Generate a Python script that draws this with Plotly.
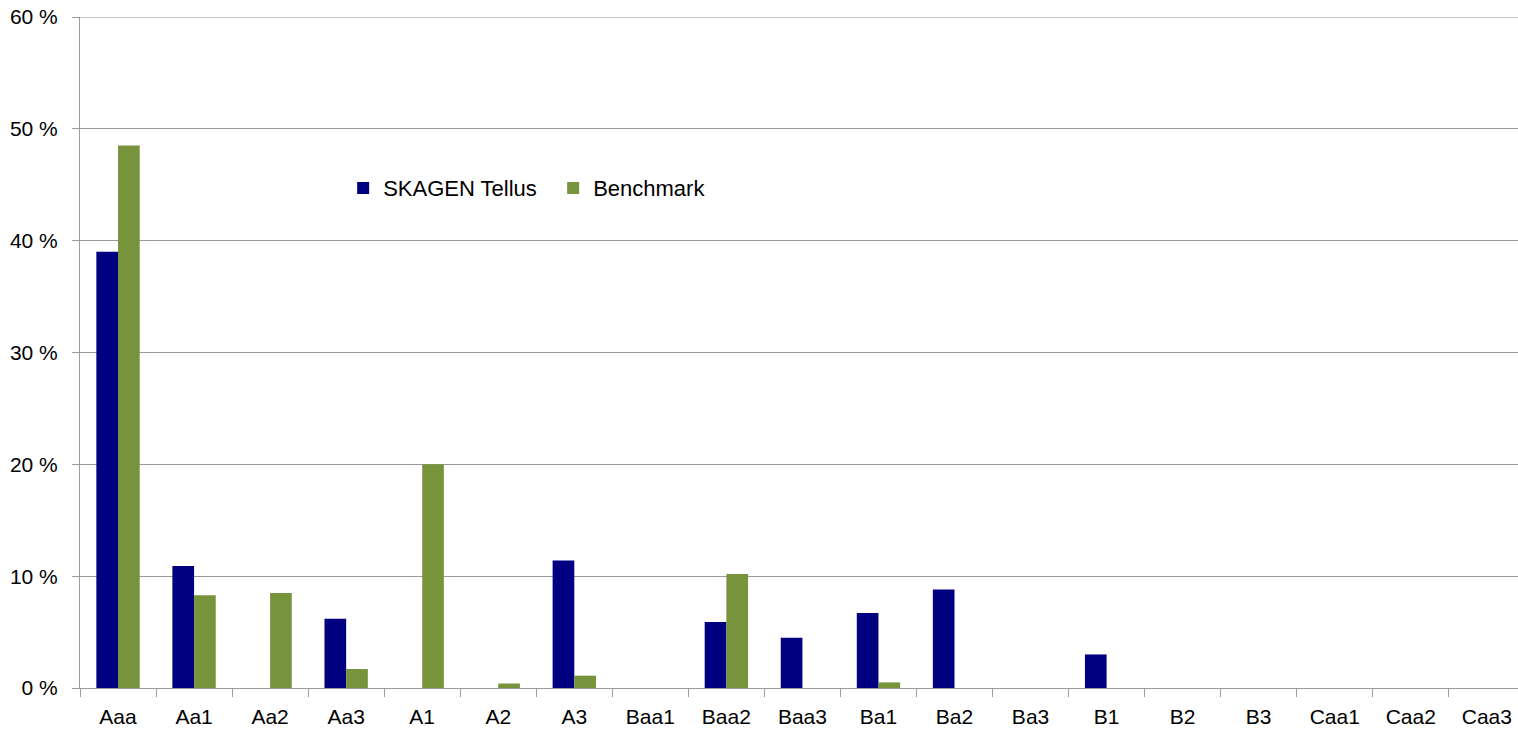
import plotly.graph_objects as go

categories = ["Aaa", "Aa1", "Aa2", "Aa3", "A1", "A2", "A3", "Baa1", "Baa2", "Baa3",
              "Ba1", "Ba2", "Ba3", "B1", "B2", "B3", "Caa1", "Caa2", "Caa3"]
skagen_tellus = [39.0, 10.9, 0, 6.2, 0, 0, 11.4, 0, 5.9, 4.5,
                 6.7, 8.8, 0, 3.0, 0, 0, 0, 0, 0]
benchmark = [48.5, 8.3, 8.5, 1.7, 20.0, 0.4, 1.1, 0, 10.2, 0,
             0.5, 0, 0, 0, 0, 0, 0, 0, 0]
y_ticks = [0, 10, 20, 30, 40, 50, 60]
y_tick_labels = ["0 %", "10 %", "20 %", "30 %", "40 %", "50 %", "60 %"]

FONT = "Liberation Sans"
GRID = "#9a9a9a"

fig = go.Figure()
fig.add_trace(go.Bar(name="SKAGEN Tellus", x=categories, y=skagen_tellus,
                     marker=dict(color="#000080", line=dict(width=0))))
fig.add_trace(go.Bar(name="Benchmark", x=categories, y=benchmark,
                     marker=dict(color="#77933C", line=dict(width=0))))

# top gridline (plotly omits the gridline at the range edge)
fig.add_shape(type="line", xref="paper", yref="y", x0=0, x1=1,
              y0=y_ticks[-1], y1=y_ticks[-1], line=dict(color=GRID, width=1),
              layer="below")

fig.update_layout(
    width=1518, height=734,
    margin=dict(l=80, r=0, t=17, b=46, autoexpand=False),
    paper_bgcolor="white", plot_bgcolor="white",
    font=dict(family=FONT, size=21, color="black"),
    barmode="group", bargap=0.43, bargroupgap=0,
    showlegend=True,
    legend=dict(orientation="h", x=0.183, y=0.745, xanchor="left", yanchor="middle",
                font=dict(family=FONT, size=22), bgcolor="rgba(0,0,0,0)",
                itemwidth=30, entrywidth=165, traceorder="normal"),
    xaxis=dict(range=[-0.5, 18.41], showgrid=False, showline=True, linecolor=GRID,
               linewidth=1, ticks="outside", ticklen=8, tickcolor=GRID,
               tickson="boundaries", tickfont=dict(size=21), automargin=False,
               ticklabelstandoff=10, ticklabeloverflow="allow"),
    yaxis=dict(range=[0, 60], tickvals=y_ticks, ticktext=y_tick_labels,
               showgrid=True, gridcolor=GRID, gridwidth=1, showline=True,
               linecolor=GRID, linewidth=1, ticks="outside", ticklen=7,
               tickcolor=GRID, zeroline=False, tickfont=dict(size=21),
               automargin=False, ticklabelstandoff=10, ticklabeloverflow="allow"),
)

fig.write_html("out.html", config={"displayModeBar": False},
               post_script="document.body.style.margin='0';document.body.style.overflow='hidden';")
